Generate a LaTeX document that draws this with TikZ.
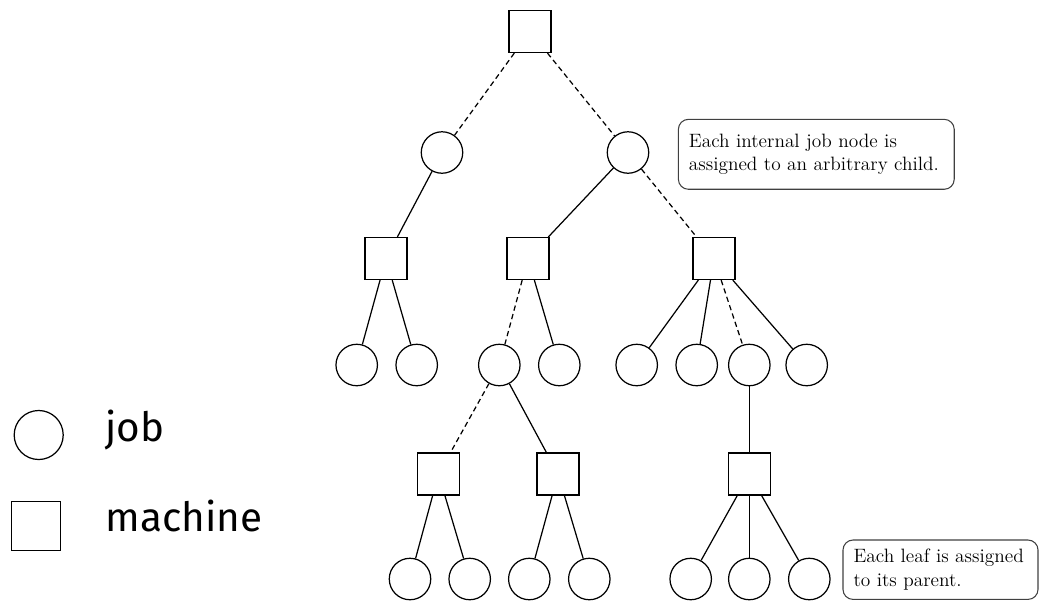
\documentclass[tikz,border=0pt]{standalone}
\usepackage{fontspec}
\newfontfamily\legendfont{Fira Sans}
\tikzstyle{job}+=[draw,circle,minimum size=23.6pt,inner sep=0pt]
\tikzstyle{machine}+=[draw,rectangle,minimum size=23.9pt,inner sep=0pt]
\tikzstyle{assigned}+=[dash pattern=on 3pt off 2pt]
\tikzstyle{note}+=[draw=black!75,line width=0.6pt,rounded corners=5.7pt,align=left,inner xsep=6pt,font=\fontsize{11}{13.3}\selectfont]
\tikzstyle{legend}+=[anchor=base west,inner sep=0pt,font=\legendfont\fontsize{23}{27}\selectfont]
\begin{document}
\begin{tikzpicture}[x=0.02cm,y=-0.02cm,line width=0.7pt]
    \useasboundingbox (0,0) rectangle (1044,600);
    % legend
    \node[job,minimum size=27.9pt] (kjob) at (38.7,435) {};
    \node[machine,minimum size=27.9pt] (kmachine) at (36.3,525.8) {};
    \node[legend] (tjob) at (105,441.7) {job};
    \node[legend] (tmachine) at (105,531.7) {machine};
    % tree
    \node[machine] (m) at (530,31.5) {};
    \node[job] (j1) at (442,152.5) {};
    \node[job] (j2) at (628,152.5) {};
    \node[machine] (m1) at (386,258.5) {};
    \node[machine] (m2) at (528,258.5) {};
    \node[machine] (m3) at (714,258.5) {};
    \node[job] (j11) at (356.7,365) {};
    \node[job] (j12) at (416.7,365) {};
    \node[job] (j21) at (499.3,365) {};
    \node[job] (j22) at (559.3,365) {};
    \node[job] (j31) at (636.7,365) {};
    \node[job] (j32) at (696.7,365) {};
    \node[job] (j33) at (749.3,365) {};
    \node[job] (j34) at (806.7,365) {};
    \node[machine] (m21) at (438.5,474) {};
    \node[machine] (m22) at (558,474) {};
    \node[machine] (m33) at (749.3,474) {};
    \node[job] (l1) at (410,579) {};
    \node[job] (l2) at (469.7,579) {};
    \node[job] (l3) at (529.3,579) {};
    \node[job] (l4) at (589.3,579) {};
    \node[job] (l5) at (690.7,579) {};
    \node[job] (l6) at (749.3,579) {};
    \node[job] (l7) at (809.3,579) {};
    \draw[assigned] (m) -- (j1);
    \draw[assigned] (m) -- (j2);
    \draw (j1) -- (m1);
    \draw (j2) -- (m2);
    \draw[assigned] (j2) -- (m3);
    \draw (m1) -- (j11);
    \draw (m1) -- (j12);
    \draw[assigned] (m2) -- (j21);
    \draw (m2) -- (j22);
    \draw (m3) -- (j31);
    \draw (m3) -- (j32);
    \draw[assigned] (m3) -- (j33);
    \draw (m3) -- (j34);
    \draw[assigned] (j21) -- (m21);
    \draw (j21) -- (m22);
    \draw (j33) -- (m33);
    \draw (m21) -- (l1);
    \draw (m21) -- (l2);
    \draw (m22) -- (l3);
    \draw (m22) -- (l4);
    \draw (m33) -- (l5);
    \draw (m33) -- (l6);
    \draw (m33) -- (l7);
    % notes
    \node[note,text width=145pt,minimum height=39.8pt] (n1) at (816.3,154.3) {Each internal job node is\\assigned to an arbitrary child.};
    \node[note,text width=99pt,minimum height=33.8pt] (n2) at (940.5,569.7) {Each leaf is assigned\\to its parent.};
\end{tikzpicture}
\end{document}
